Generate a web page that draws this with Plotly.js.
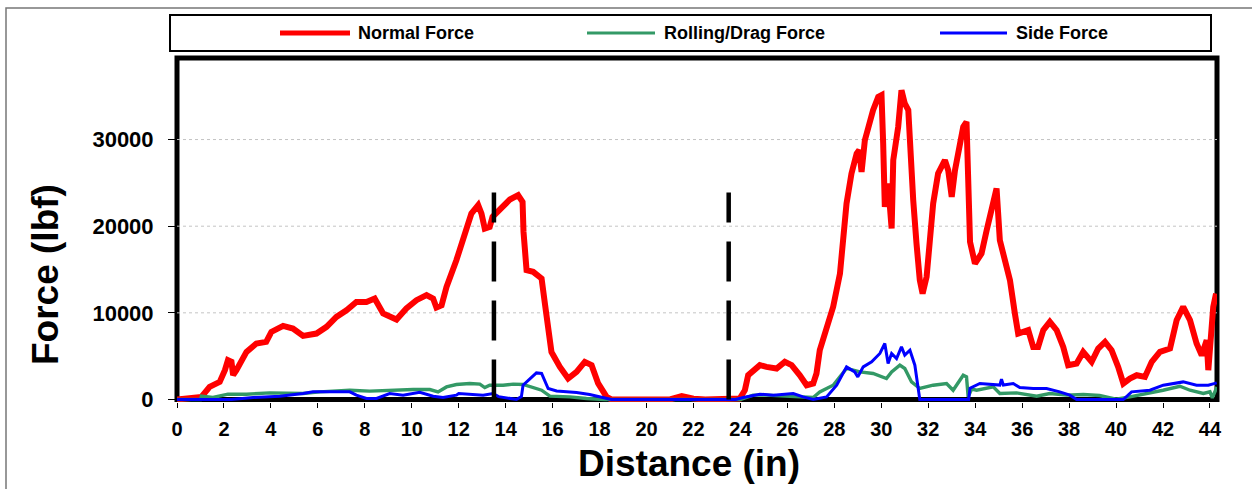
<!DOCTYPE html>
<html>
<head>
<meta charset="utf-8">
<script src="https://cdn.plot.ly/plotly-3.0.1.min.js"></script>
<style>html,body{margin:0;padding:0;background:#fff;}#chart{width:1252px;height:489px;}</style>
</head>
<body>
<div id="chart"></div>
<script>
// ---- Data ----
const normalX = [0,0.5,0.97,1.04,1.39,1.82,2.04,2.17,2.32,2.39,2.53,2.96,3.38,3.8,4.02,4.52,4.94,5.37,5.94,6.37,6.79,7.22,7.64,8.07,8.42,8.78,9.35,9.77,10.2,10.63,10.91,11.05,11.27,11.48,11.9,12.26,12.54,12.83,12.97,13.11,13.32,13.44,13.75,14.18,14.53,14.72,14.76,14.89,15.17,15.53,15.67,15.81,15.95,16.31,16.66,17.02,17.37,17.66,17.94,18.3,18.5,21.0,21.5,22.0,22.5,23.97,24.19,24.33,24.54,24.83,25.11,25.54,25.89,26.18,26.53,26.82,27.1,27.24,27.38,27.67,27.95,28.24,28.38,28.52,28.73,28.95,29.06,29.16,29.3,29.44,29.65,29.87,30.01,30.08,30.15,30.29,30.44,30.51,30.72,30.86,31.0,31.15,31.22,31.36,31.5,31.64,31.76,31.93,32.07,32.21,32.42,32.71,32.85,33.0,33.14,33.28,33.49,33.63,33.7,33.78,33.99,34.27,34.49,34.7,34.91,35.05,35.27,35.48,35.69,35.83,36.26,36.47,36.68,36.9,37.18,37.47,37.75,37.96,38.32,38.6,38.96,39.24,39.53,39.81,40.09,40.31,40.59,40.88,41.23,41.52,41.87,42.3,42.58,42.86,43.15,43.43,43.65,43.86,43.93,44.07,44.14,44.26];
const normalY = [0,150,200,300,1450,2030,3380,4530,4340,2800,3380,5490,6460,6650,7800,8500,8190,7340,7610,8380,9530,10300,11260,11260,11650,9920,9230,10500,11460,12040,11650,10620,10880,12990,16070,18960,21460,22420,21460,19730,19920,21070,21840,23080,23580,22800,19340,14920,14730,13960,11080,8000,5490,3760,2420,3190,4340,3960,1850,300,0,0,400,100,0,100,1070,2800,3380,3960,3760,3580,4340,3960,2800,1650,1850,3000,5690,8000,10690,14540,19160,22620,26080,28390,28770,26270,29920,31460,33390,34920,35120,29540,22230,24930,19730,27620,31460,35690,34160,33390,29540,23000,18000,13770,12230,14150,18380,22620,26080,27620,26460,23380,26460,28770,31460,32030,25300,18190,15690,16850,19540,21840,24350,18380,16070,13770,9920,7610,8000,6070,6070,8000,8960,8000,6070,3960,4150,5490,4340,5880,6650,5690,3760,1850,2420,2800,2610,4340,5490,5880,9150,10690,9150,6460,5110,6840,3380,7610,10690,12230];

const dragX = [0,1.0,1.04,1.53,2.17,2.96,3.95,5.37,6.08,7.36,8.21,9.06,10.06,10.77,11.12,11.48,11.9,12.47,12.9,13.11,13.32,13.89,14.32,14.74,15.17,15.53,15.88,16.73,17.44,18.2,24.0,24.54,25.1,25.8,26.5,27.1,27.38,27.95,28.52,29.09,29.65,30.22,30.44,30.79,31.0,31.29,31.64,32.21,32.78,33.06,33.49,33.63,33.7,33.85,34.06,34.77,35.05,35.76,36.62,37.18,37.9,38.6,39.3,40.0,40.59,41.16,42.0,42.72,43.15,43.72,44.0,44.1,44.3];
const dragY = [0,0,380,230,610,610,760,690,880,1070,960,1070,1150,1150,880,1450,1730,1850,1770,1380,1650,1650,1770,1730,1380,1070,380,300,115,0,0,500,500,380,300,230,880,1650,3580,3190,3000,2420,3190,3960,3580,2030,1270,1650,1850,1070,2800,2610,300,1200,1070,1450,690,760,380,690,500,575,460,30,300,575,1070,1530,1070,690,880,200,1450];

const sideX = [0,2.32,3.24,4.38,5.37,5.79,7.36,7.64,8.07,8.5,9.06,9.63,10.34,10.91,11.33,11.9,12.0,12.47,13.04,13.46,13.7,14.46,14.67,14.74,15.03,15.31,15.53,15.67,15.81,16.17,17.02,17.58,18.15,18.5,23.8,24.12,24.83,25.4,26.25,26.67,27.1,27.67,28.1,28.52,28.87,29.0,29.23,29.59,29.94,30.15,30.29,30.44,30.65,30.86,31.0,31.22,31.43,31.64,33.72,33.78,34.2,35.05,35.12,35.2,35.62,35.9,36.47,37.04,37.6,38.03,38.32,40.31,40.66,41.44,42.01,42.86,43.43,43.93,44.29];
const sideY = [0,0,230,380,690,880,880,500,115,115,690,500,840,380,230,500,690,600,500,690,330,0,330,1650,2420,3070,3000,2230,1270,990,810,575,230,0,0,230,610,500,690,300,0,300,1650,3760,3190,2610,3760,4340,5310,6460,4150,5310,4730,6070,5120,5690,3960,0,0,1300,1850,1660,2340,1660,1850,1380,1270,1270,880,500,0,0,880,1070,1650,2030,1650,1650,1920];

const dividerX = [13.5, 23.5];
const dividerTop = 23900;

const yTickVals = [0, 10000, 20000, 30000];
const gridVals = [10000, 20000, 30000];
const xTickStep = 2;

const seriesNames = ["Normal Force", "Rolling/Drag Force", "Side Force"];
const xTitle = "Distance (in)";
const yTitle = "Force (lbf)";

// ---- Styling ----
const FONT = "Liberation Sans, Arial, Helvetica, sans-serif";
const colors = ["#ff0000", "#339966", "#0000ff"];
const W = 1252, H = 489;
const M = {l:177, r:35, t:58, b:87};
const PW = W - M.l - M.r, PH = H - M.t - M.b;
const yMin = -290, yMax = 39410;
const px2x = p => (p - M.l) / PW;
const py2y = p => (H - M.b - p) / PH;
const zeroPaper = (0 - yMin) / (yMax - yMin);

const traces = [
  {x: normalX, y: normalY, name: seriesNames[0], mode: "lines", line: {color: colors[0], width: 6}},
  {x: dragX, y: dragY, name: seriesNames[1], mode: "lines", line: {color: colors[1], width: 3.4}},
  {x: sideX, y: sideY, name: seriesNames[2], mode: "lines", line: {color: colors[2], width: 3}}
];
dividerX.forEach(d => traces.push({
  x: [d, d], y: [0, dividerTop], mode: "lines", showlegend: false, hoverinfo: "skip",
  line: {color: "#000", width: 4.5, dash: "40px,19px"}
}));

const shapes = [
  // outer figure frame
  {type: "rect", xref: "paper", yref: "paper", x0: px2x(6), x1: px2x(1270), y0: py2y(8), y1: py2y(520),
   line: {color: "#777", width: 1.5}, layer: "below"},
  // plot frame (bottom edge on the zero line)
  {type: "rect", xref: "paper", yref: "paper", x0: 0, x1: 1, y0: zeroPaper, y1: 1,
   line: {color: "#000", width: 5}, layer: "below"},
  // legend box
  {type: "rect", xref: "paper", yref: "paper", x0: px2x(170), x1: px2x(1211), y0: py2y(51), y1: py2y(15),
   line: {color: "#000", width: 2}, fillcolor: "#fff", layer: "above"}
];
// dotted horizontal gridlines (not at zero)
gridVals.forEach(v => shapes.push({type: "line", xref: "paper", yref: "y", x0: 0, x1: 1, y0: v, y1: v,
  line: {color: "#c4c4c4", width: 1, dash: "dot"}, layer: "below"}));

const legendItems = [
  {x0: 280, x1: 350, tx: 356, w: 5},
  {x0: 587, x1: 655, tx: 662, w: 3},
  {x0: 940, x1: 1007, tx: 1014, w: 3}
];
const annotations = [];
legendItems.forEach((it, i) => {
  shapes.push({type: "line", xref: "paper", yref: "paper", x0: px2x(it.x0), x1: px2x(it.x1),
    y0: py2y(33), y1: py2y(33), line: {color: colors[i], width: it.w}, layer: "above"});
  annotations.push({xref: "paper", yref: "paper", x: px2x(it.tx), y: py2y(33), xanchor: "left", yanchor: "middle",
    text: seriesNames[i], showarrow: false, font: {family: FONT, size: 18, weight: 700, color: "#000"}});
});
annotations.push({xref: "paper", yref: "paper", x: px2x(689), y: py2y(464), xanchor: "center", yanchor: "middle",
  text: xTitle, showarrow: false, font: {family: FONT, size: 37, weight: 700, color: "#000"}});
annotations.push({xref: "paper", yref: "paper", x: px2x(45), y: py2y(275), xanchor: "center", yanchor: "middle",
  text: yTitle, textangle: -90, showarrow: false, font: {family: FONT, size: 37, weight: 700, color: "#000"}});

const layout = {
  width: W, height: H, margin: M,
  paper_bgcolor: "#fff", plot_bgcolor: "#fff",
  showlegend: false,
  font: {family: FONT, color: "#000"},
  xaxis: {range: [0, 44.3], tick0: 0, dtick: xTickStep, ticks: "outside", ticklen: 5, tickwidth: 1, tickcolor: "#000",
    tickfont: {family: FONT, size: 20, weight: 700, color: "#000"}, showgrid: false, zeroline: false, showline: false,
    ticklabelstandoff: 4, fixedrange: true},
  yaxis: {range: [yMin, yMax], tickmode: "array", tickvals: yTickVals, tickformat: "d", ticks: "outside", ticklen: 8, tickwidth: 1, tickcolor: "#000",
    tickfont: {family: FONT, size: 22, weight: 700, color: "#000"}, showgrid: false,
    zeroline: false, showline: false, ticklabelstandoff: 10, fixedrange: true},
  shapes: shapes,
  annotations: annotations
};

Plotly.newPlot("chart", traces, layout, {displayModeBar: false, staticPlot: true});
</script>
</body>
</html>
